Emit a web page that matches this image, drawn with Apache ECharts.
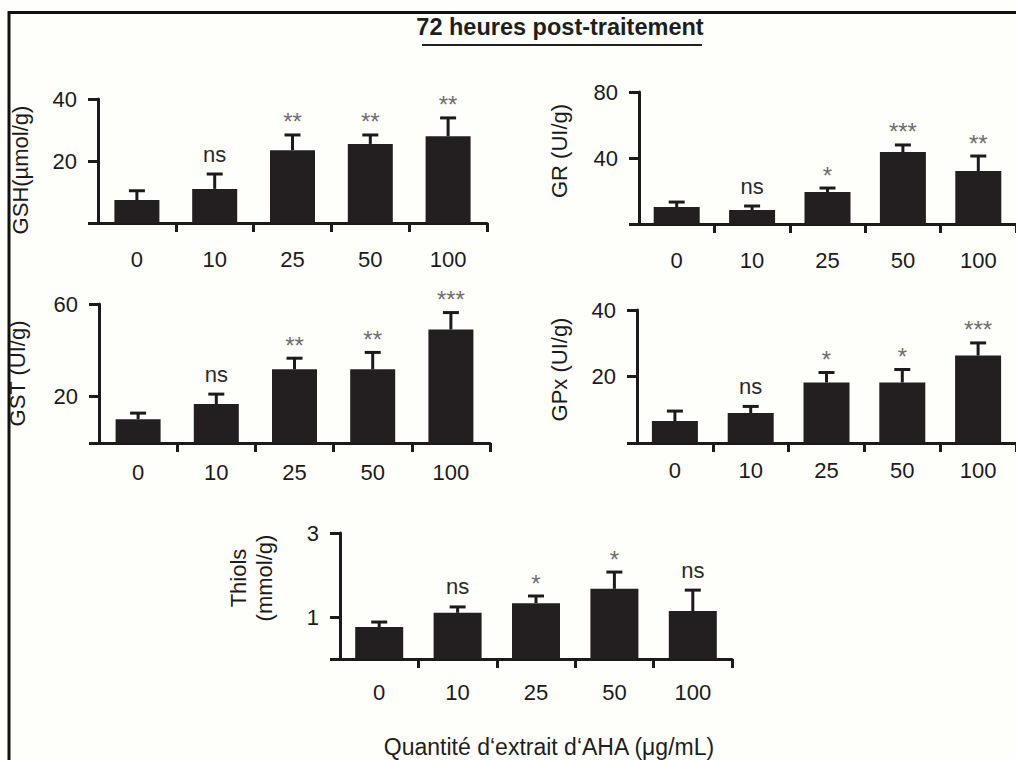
<!DOCTYPE html>
<html>
<head>
<meta charset="utf-8">
<script src="https://cdn.jsdelivr.net/npm/echarts@6/dist/echarts.min.js"></script>
<style>
  html, body { margin: 0; padding: 0; background: #fefefb; }
  #chart { width: 1016px; height: 760px; }
</style>
</head>
<body>
<div id="chart"></div>
<script>
// Doses of extract (µg/mL) shared by every panel
const doses = ['0', '10', '25', '50', '100'];

// GSH (µmol/g): mean, SEM, significance vs control
const gshMean = [7.4, 11.0, 23.5, 25.5, 28.0];
const gshSem  = [3.0, 4.8, 4.9, 2.9, 5.9];
const gshSig  = ['', 'ns', '**', '**', '**'];

// GR (UI/g)
const grMean = [10.3, 8.5, 19.4, 43.6, 32.1];
const grSem  = [3.0, 2.4, 2.4, 4.3, 9.1];
const grSig  = ['', 'ns', '*', '***', '**'];

// GST (UI/g)
const gstMean = [10.3, 16.8, 31.8, 31.8, 49.0];
const gstSem  = [2.6, 4.3, 4.8, 7.3, 7.3];
const gstSig  = ['', 'ns', '**', '**', '***'];

// GPx (UI/g)
const gpxMean = [6.6, 9.0, 18.2, 18.2, 26.3];
const gpxSem  = [3.0, 2.0, 3.0, 3.9, 3.8];
const gpxSig  = ['', 'ns', '*', '*', '***'];

// Thiols (mmol/g)
const thiolMean = [0.76, 1.10, 1.33, 1.67, 1.14];
const thiolSem  = [0.12, 0.14, 0.17, 0.40, 0.50];
const thiolSig  = ['', 'ns', '*', '*', 'ns'];

// Y-axis tick and label values per panel
const gshTicks = [0, 20, 40],  gshLabels = [20, 40];
const grTicks = [0, 40, 80],   grLabels = [40, 80];
const gstTicks = [0, 20, 60],  gstLabels = [20, 60];
const gpxTicks = [0, 20, 40],  gpxLabels = [20, 40];
const thiolTicks = [0, 1, 3],  thiolLabels = [1, 3];

const titleText = '72 heures post-traitement';
const xTitle = 'Quantit\u00e9 d\u2018extrait d\u2018AHA (\u03bcg/mL)';

const FONT = '"Liberation Sans", Arial, Helvetica, sans-serif';
const INK = '#1c1a1b';
const BAR = '#231f20';

const panels = [
  { name: 'GSH(\u00b5mol/g)', mean: gshMean, sem: gshSem, sig: gshSig, max: 40, ticks: gshTicks, labels: gshLabels,
    grid: { left: 98, top: 99, width: 389, height: 124 }, barWidth: 45, labelMargin: 25, nameGap: 65, namePad: [0, 18, 0, 0] },
  { name: 'GR (UI/g)', mean: grMean, sem: grSem, sig: grSig, max: 80, ticks: grTicks, labels: grLabels,
    grid: { left: 639, top: 92, right: -6, height: 132 }, barWidth: 46, labelMargin: 25, nameGap: 67, namePad: [0, 0, 0, 14] },
  { name: 'GST (UI/g)', mean: gstMean, sem: gstSem, sig: gstSig, max: 60, ticks: gstTicks, labels: gstLabels,
    grid: { left: 99, top: 304, width: 391, height: 139 }, barWidth: 45, labelMargin: 18, nameGap: 69, namePad: [0, 0, 0, 0] },
  { name: 'GPx (UI/g)', mean: gpxMean, sem: gpxSem, sig: gpxSig, max: 40, ticks: gpxTicks, labels: gpxLabels,
    grid: { left: 637, top: 310, right: -5, height: 133 }, barWidth: 46, labelMargin: 16, nameGap: 65, namePad: [0, 0, 0, 14] },
  { name: 'Thiols\n(mmol/g)', mean: thiolMean, sem: thiolSem, sig: thiolSig, max: 3, ticks: thiolTicks, labels: thiolLabels,
    grid: { left: 340, top: 533, width: 392, height: 126 }, barWidth: 48, labelMargin: 22, nameGap: 63, namePad: [0, 0, 0, 36] }
];

const grids = [], xAxes = [], yAxes = [], series = [];

panels.forEach((p, i) => {
  grids.push(Object.assign({ containLabel: false }, p.grid));

  xAxes.push({
    type: 'category', gridIndex: i, data: doses,
    axisLine: { lineStyle: { color: INK, width: 3 } },
    axisTick: { show: true, length: 9, lineStyle: { color: INK, width: 3 },
                interval: (idx) => idx > 0 },
    axisLabel: { interval: 0, margin: p.labelMargin, fontSize: 22, color: INK, fontFamily: FONT }
  });

  yAxes.push({
    type: 'value', gridIndex: i, min: 0, max: p.max,
    axisLine: { show: true, lineStyle: { color: INK, width: 3 } },
    axisTick: { show: true, length: 10, lineStyle: { color: INK, width: 3 }, customValues: p.ticks },
    axisLabel: { customValues: p.labels, margin: 21, fontSize: 22, color: INK, fontFamily: FONT },
    splitLine: { show: false },
    name: p.name, nameLocation: 'middle', nameRotate: 90, nameGap: p.nameGap,
    nameTextStyle: { fontSize: 22, color: INK, fontFamily: FONT, lineHeight: 26, padding: p.namePad }
  });

  series.push({
    type: 'bar', xAxisIndex: i, yAxisIndex: i, data: p.mean,
    barWidth: p.barWidth, itemStyle: { color: BAR }, silent: true, z: 2
  });

  // error bars (upper whisker with cap) and significance marks
  const errData = p.mean.map((m, k) => [k, m, m + p.sem[k]]);
  series.push({
    type: 'custom', xAxisIndex: i, yAxisIndex: i, data: errData, z: 3, silent: true,
    encode: { x: 0, y: [1, 2] },
    renderItem: (params, api) => {
      const k = api.value(0);
      const base = api.coord([k, api.value(1)]);
      const top = api.coord([k, api.value(2)]);
      const sig = p.sig[params.dataIndex];
      const children = [
        { type: 'line', shape: { x1: base[0], y1: base[1], x2: top[0], y2: top[1] },
          style: { stroke: INK, lineWidth: 3 } },
        { type: 'line', shape: { x1: top[0] - 8, y1: top[1], x2: top[0] + 8, y2: top[1] },
          style: { stroke: INK, lineWidth: 3 } }
      ];
      if (sig) {
        const stars = sig.indexOf('*') >= 0;
        children.push({
          type: 'text', x: top[0], y: stars ? top[1] - 13 : top[1] - 20,
          style: { text: sig, align: 'center', verticalAlign: 'middle',
                   fontSize: stars ? 24 : 22, fontFamily: FONT,
                   fill: stars ? '#6e6e6e' : '#2a2a2a' }
        });
      }
      return { type: 'group', children };
    }
  });
});

const chart = echarts.init(document.getElementById('chart'), null, { renderer: 'svg' });
chart.setOption({
  backgroundColor: '#fefefb',
  animation: false,
  grid: grids, xAxis: xAxes, yAxis: yAxes, series,
  graphic: [
    // frame around the figure
    { type: 'rect', shape: { x: 9, y: 12.5, width: 1100, height: 1000 },
      style: { fill: 'none', stroke: '#111', lineWidth: 3 }, silent: true },
    { type: 'text', x: 560, y: 27,
      style: { text: titleText, align: 'center', verticalAlign: 'middle',
               fontSize: 23.5, fontWeight: 'bold', fontFamily: FONT, fill: '#1e1e1e' } },
    { type: 'line', shape: { x1: 422, y1: 45, x2: 702, y2: 45 },
      style: { stroke: '#222', lineWidth: 2 } },
    { type: 'text', x: 549, y: 747,
      style: { text: xTitle, align: 'center', verticalAlign: 'middle',
               fontSize: 23, fontFamily: FONT, fill: '#1e1e1e' } }
  ]
});
</script>
</body>
</html>
